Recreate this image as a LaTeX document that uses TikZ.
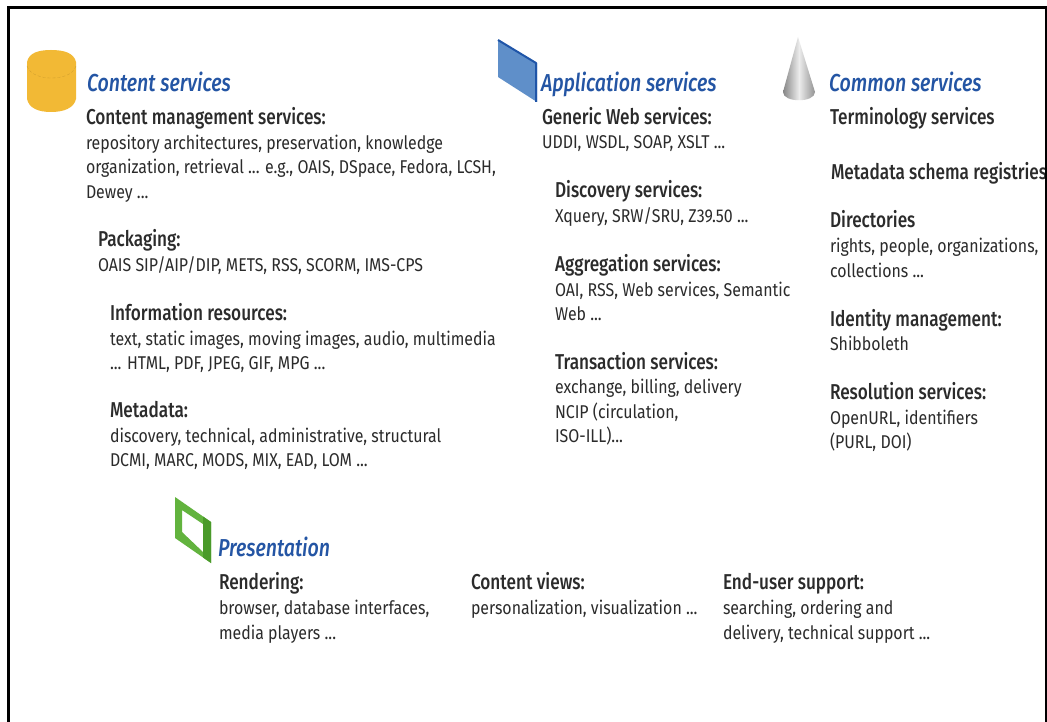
\documentclass[tikz,border=0pt]{standalone}
\usepackage{fontspec}
\setmainfont{Fira Sans}
\newfontfamily\medf{Fira Sans Medium}
\definecolor{head}{HTML}{2455A4}
\definecolor{ink}{HTML}{2B2B2B}
\definecolor{cyl}{HTML}{F2B935}
\definecolor{appf}{HTML}{5F8FC9}
\definecolor{appe}{HTML}{1F55A8}
\definecolor{pres}{HTML}{62B33E}
\definecolor{presd}{HTML}{4A9A2A}
\tikzset{
 x=1pt,y=-1pt,
 base/.style={anchor=base west,inner sep=0pt,outer sep=0pt,transform shape,text=ink},
 head/.style={base,xscale=.80,font=\fontsize{24.5}{24}\selectfont\medf\itshape,text=head},
 ttl/.style={base,xscale=.80,font=\fontsize{21.5}{24}\selectfont\medf},
 bod/.style={base,xscale=.86,font=\fontsize{18.5}{24}\selectfont},
}
\newcommand{\hd}[4]{\node[head] (#1) at (#2,#3) {#4};}
\newcommand{\tl}[4]{\node[ttl] (#1) at (#2,#3) {#4};}
\newcommand{\bd}[4]{\node[bod] (#1) at (#2,#3) {#4};}
\begin{document}
\begin{tikzpicture}
\useasboundingbox (0,0) rectangle (1047,722);
\fill[white] (0,0) rectangle (1047,722);
% cylinder
\fill[cyl] (27,62) .. controls (29,53) and (38,50) .. (51,50) .. controls (64,50) and (74,53) .. (76,62)
 -- (76,99) .. controls (74,108) and (64,112) .. (51,112) .. controls (38,112) and (29,108) .. (27,99) -- cycle;
\draw[cyl!85!black,densely dashed,line width=.3pt] (27,66) .. controls (30,75) and (42,78) .. (51,78) .. controls (62,78) and (73,75) .. (76,66);
% application plane
\fill[appf] (498,40) -- (537,63) -- (537,102) -- (498,77) -- cycle;
\draw[appe,line width=2pt,line join=round] (498,40) -- (536,63) -- (536,102);
% cone
\shade[left color=gray!95,right color=gray!85,middle color=gray!15]
 (798,37) -- (815,92) .. controls (815,103) and (783,103) .. (783,92) -- cycle;
% green frame
\fill[pres,even odd rule] (175,497) -- (211,522) -- (211,563) -- (175,538) -- cycle
 (182,510) -- (203,524) -- (203,552) -- (182,532) -- cycle;
\fill[presd] (203,516.5) -- (211,522) -- (211,563) -- (203,557.5) -- cycle;
\begin{scope}
\clip (0,0) rectangle (1045,722);
\hd{h1}{87}{92}{Content services}
\tl{a1}{86}{125}{Content management services:}
\bd{a2}{86}{150}{repository architectures, preservation, knowledge}
\bd{a3}{86}{174}{organization, retrieval ... e.g., OAIS, DSpace, Fedora, LCSH,}
\bd{a4}{86}{199}{Dewey ...}
\tl{b1}{98}{247}{Packaging:}
\bd{b2}{98}{271}{OAIS SIP/AIP/DIP, METS, RSS, SCORM, IMS-CPS}
\tl{c1}{110}{320}{Information resources:}
\bd{c2}{110}{345}{text, static images, moving images, audio, multimedia}
\bd{c3}{110}{369}{... HTML, PDF, JPEG, GIF, MPG ...}
\tl{d1}{110}{417}{Metadata:}
\bd{d2}{110}{442}{discovery, technical, administrative, structural}
\bd{d3}{110}{466}{DCMI, MARC, MODS, MIX, EAD, LOM ...}
\hd{h2}{541}{92}{Application services}
\tl{e1}{542}{125}{Generic Web services:}
\bd{e2}{542}{149}{UDDI, WSDL, SOAP, XSLT ...}
\tl{f1}{555}{198}{Discovery services:}
\bd{f2}{555}{223}{Xquery, SRW/SRU, Z39.50 ...}
\tl{g1}{555}{271}{Aggregation services:}
\bd{g2}{555}{296}{OAI, RSS, Web services, Semantic}
\bd{g3}{555}{320}{Web ...}
\tl{i1}{555}{369}{Transaction services:}
\bd{i2}{555}{393}{exchange, billing, delivery}
\bd{i3}{555}{418}{NCIP (circulation,}
\bd{i4}{555}{442}{ISO-ILL)...}
\hd{h3}{829}{92}{Common services}
\tl{j1}{830}{125}{Terminology services}
\tl{k1}{831}{180}{Metadata schema registries}
\tl{l1}{830}{228}{Directories}
\bd{l2}{830}{253}{rights, people, organizations,}
\bd{l3}{830}{277}{collections ...}
\tl{m1}{830}{326}{Identity management:}
\bd{m2}{830}{350}{Shibboleth}
\tl{n1}{830}{399}{Resolution services:}
\bd{n2}{830}{424}{OpenURL, identifiers}
\bd{n3}{830}{448}{(PURL, DOI)}
\hd{h4}{218}{556}{Presentation}
\tl{o1}{219}{589}{Rendering:}
\bd{o2}{219}{614}{browser, database interfaces,}
\bd{o3}{219}{639}{media players ...}
\tl{p1}{471}{589}{Content views:}
\bd{p2}{471}{614}{personalization, visualization ...}
\tl{q1}{723}{589}{End-user support:}
\bd{q2}{723}{614}{searching, ordering and}
\bd{q3}{723}{639}{delivery, technical support ...}
\end{scope}
% frame
\draw[black,line width=3pt] (8.5,722) -- (8.5,7.5) -- (1046,7.5) -- (1046,722);
\end{tikzpicture}
\end{document}
